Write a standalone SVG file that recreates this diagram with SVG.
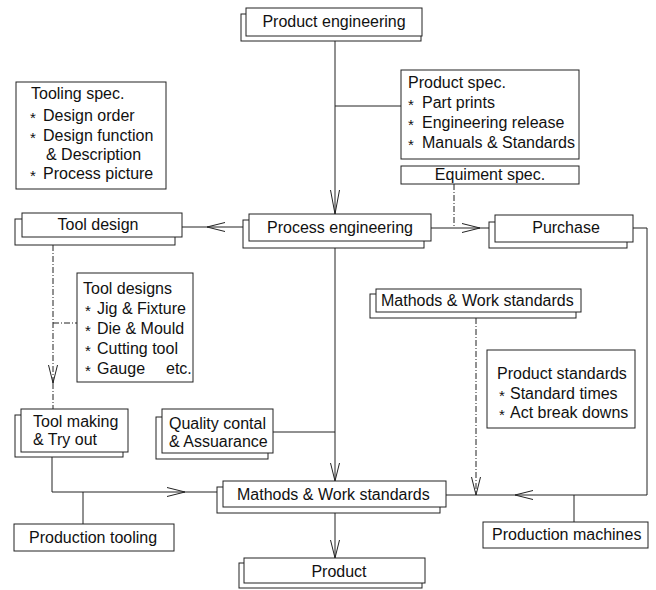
<svg xmlns="http://www.w3.org/2000/svg" width="656" height="590" viewBox="0 0 656 590">
<defs>
<style>
text{font-family:"Liberation Sans",Arial,sans-serif;font-size:16px;fill:#111}
.m{text-anchor:middle}
.s{font-size:15px}
rect{fill:#fff;stroke:#222;stroke-width:1}
.c path{fill:none;stroke:#222;stroke-width:1}
.c .d{stroke-dasharray:6 2 1 2}
</style>
<marker id="a" markerUnits="userSpaceOnUse" viewBox="0 0 18 10" refX="18" refY="5" markerWidth="18" markerHeight="10" orient="auto">
<path d="M0,0.5 L18,5 L0,9.5" fill="none" stroke="#222" stroke-width="1"/>
</marker>
<marker id="al" markerUnits="userSpaceOnUse" viewBox="0 0 24 10" refX="24" refY="5" markerWidth="24" markerHeight="10" orient="auto">
<path d="M0,0.5 L24,5 L0,9.5" fill="none" stroke="#222" stroke-width="1"/>
</marker>
</defs>
<rect x="0" y="0" width="656" height="590" style="stroke:none"/>
<g class="c" id="connectors">
<path d="M335,41 V214" marker-end="url(#al)"/>
<path d="M335,106 H401"/>
<path d="M243,227 H207" marker-end="url(#a)"/>
<path d="M207,227 H182"/>
<path d="M431,228 H480" marker-end="url(#a)"/>
<path d="M480,228 H489"/>
<path class="d" d="M454,184 V228"/>
<path d="M335,248 V481" marker-end="url(#a)"/>
<path d="M273,432 H335"/>
<path class="d" d="M53,245 V383" marker-end="url(#a)"/>
<path class="d" d="M53,383 V409"/>
<path class="d" d="M53,323 H77"/>
<path d="M52,457 V492 H185" marker-end="url(#a)"/>
<path d="M185,492 H217"/>
<path d="M83,492 V524"/>
<path d="M335,513 V558" marker-end="url(#a)"/>
<path d="M633,228 H647 V495 H515" marker-end="url(#a)"/>
<path d="M515,495 H446"/>
<path class="d" d="M476,318 V495" marker-end="url(#a)"/>
<path d="M574,495 V522"/>
</g>
<g id="product_engineering">
<rect x="241" y="14" width="180" height="27"/>
<rect x="246" y="8" width="176" height="28"/>
<text class="m" x="334" y="27">Product engineering</text>
</g>
<g id="tooling_spec">
<rect x="16" y="82" width="150" height="107"/>
<text x="31" y="99">Tooling spec.</text>
<text y="121"><tspan class="s" x="30" dy="2">*</tspan> <tspan x="43" dy="-2">Design order</tspan></text>
<text y="141"><tspan class="s" x="30" dy="2">*</tspan> <tspan x="43" dy="-2">Design function</tspan></text>
<text x="46" y="160">&amp; Description</text>
<text y="179"><tspan class="s" x="30" dy="2">*</tspan> <tspan x="43" dy="-2">Process picture</tspan></text>
</g>
<g id="product_spec">
<rect x="401" y="70" width="178" height="89"/>
<text x="408" y="88">Product spec.</text>
<text y="108"><tspan class="s" x="408" dy="2">*</tspan> <tspan x="422" dy="-2">Part prints</tspan></text>
<text y="128"><tspan class="s" x="408" dy="2">*</tspan> <tspan x="422" dy="-2">Engineering release</tspan></text>
<text y="148"><tspan class="s" x="408" dy="2">*</tspan> <tspan x="422" dy="-2">Manuals &amp; Standards</tspan></text>
</g>
<g id="equipment_spec">
<rect x="401" y="166" width="178" height="18"/>
<text class="m" x="490" y="180">Equiment spec.</text>
</g>
<g id="tool_design">
<rect x="15" y="219" width="160" height="26"/>
<rect x="22" y="213" width="160" height="24"/>
<text class="m" x="98" y="230">Tool design</text>
</g>
<g id="process_engineering">
<rect x="243" y="220" width="181" height="28"/>
<rect x="249" y="214" width="182" height="27"/>
<text class="m" x="340" y="233">Process engineering</text>
</g>
<g id="purchase">
<rect x="489" y="222" width="138" height="26"/>
<rect x="495" y="215" width="138" height="27"/>
<text class="m" x="566" y="233">Purchase</text>
</g>
<g id="tool_designs">
<rect x="77" y="273" width="116" height="109"/>
<text x="83" y="294">Tool designs</text>
<text y="314"><tspan class="s" x="85" dy="2">*</tspan> <tspan x="97" dy="-2">Jig &amp; Fixture</tspan></text>
<text y="334"><tspan class="s" x="85" dy="2">*</tspan> <tspan x="97" dy="-2">Die &amp; Mould</tspan></text>
<text y="354"><tspan class="s" x="85" dy="2">*</tspan> <tspan x="97" dy="-2">Cutting tool</tspan></text>
<text y="374"><tspan class="s" x="85" dy="2">*</tspan> <tspan x="97" dy="-2">Gauge</tspan> <tspan x="166">etc.</tspan></text>
</g>
<g id="mathods_upper">
<rect x="370" y="294" width="206" height="24"/>
<rect x="376" y="289" width="205" height="23"/>
<text x="381" y="306">Mathods &amp; Work standards</text>
</g>
<g id="product_standards">
<rect x="487" y="350" width="148" height="78"/>
<text x="497" y="379">Product standards</text>
<text y="399"><tspan class="s" x="499" dy="2">*</tspan> <tspan x="510" dy="-2">Standard times</tspan></text>
<text y="418"><tspan class="s" x="499" dy="2">*</tspan> <tspan x="510" dy="-2">Act break downs</tspan></text>
</g>
<g id="tool_making">
<rect x="15" y="415" width="108" height="42"/>
<rect x="21" y="409" width="107" height="43"/>
<text x="33" y="427">Tool making</text>
<text x="33" y="445">&amp; Try out</text>
</g>
<g id="quality">
<rect x="156" y="417" width="112" height="42"/>
<rect x="162" y="409" width="111" height="44"/>
<text x="169" y="429">Quality contal</text>
<text x="169" y="447">&amp; Assuarance</text>
</g>
<g id="mathods_lower">
<rect x="217" y="487" width="223" height="26"/>
<rect x="223" y="481" width="223" height="26"/>
<text x="237" y="500">Mathods &amp; Work standards</text>
</g>
<g id="production_tooling">
<rect x="14" y="524" width="160" height="27"/>
<text x="29" y="543">Production tooling</text>
</g>
<g id="production_machines">
<rect x="483" y="522" width="165" height="26"/>
<text x="492" y="540">Production machines</text>
</g>
<g id="product">
<rect x="239" y="563" width="183" height="25"/>
<rect x="244" y="558" width="181" height="25"/>
<text class="m" x="339" y="577">Product</text>
</g>
</svg>
